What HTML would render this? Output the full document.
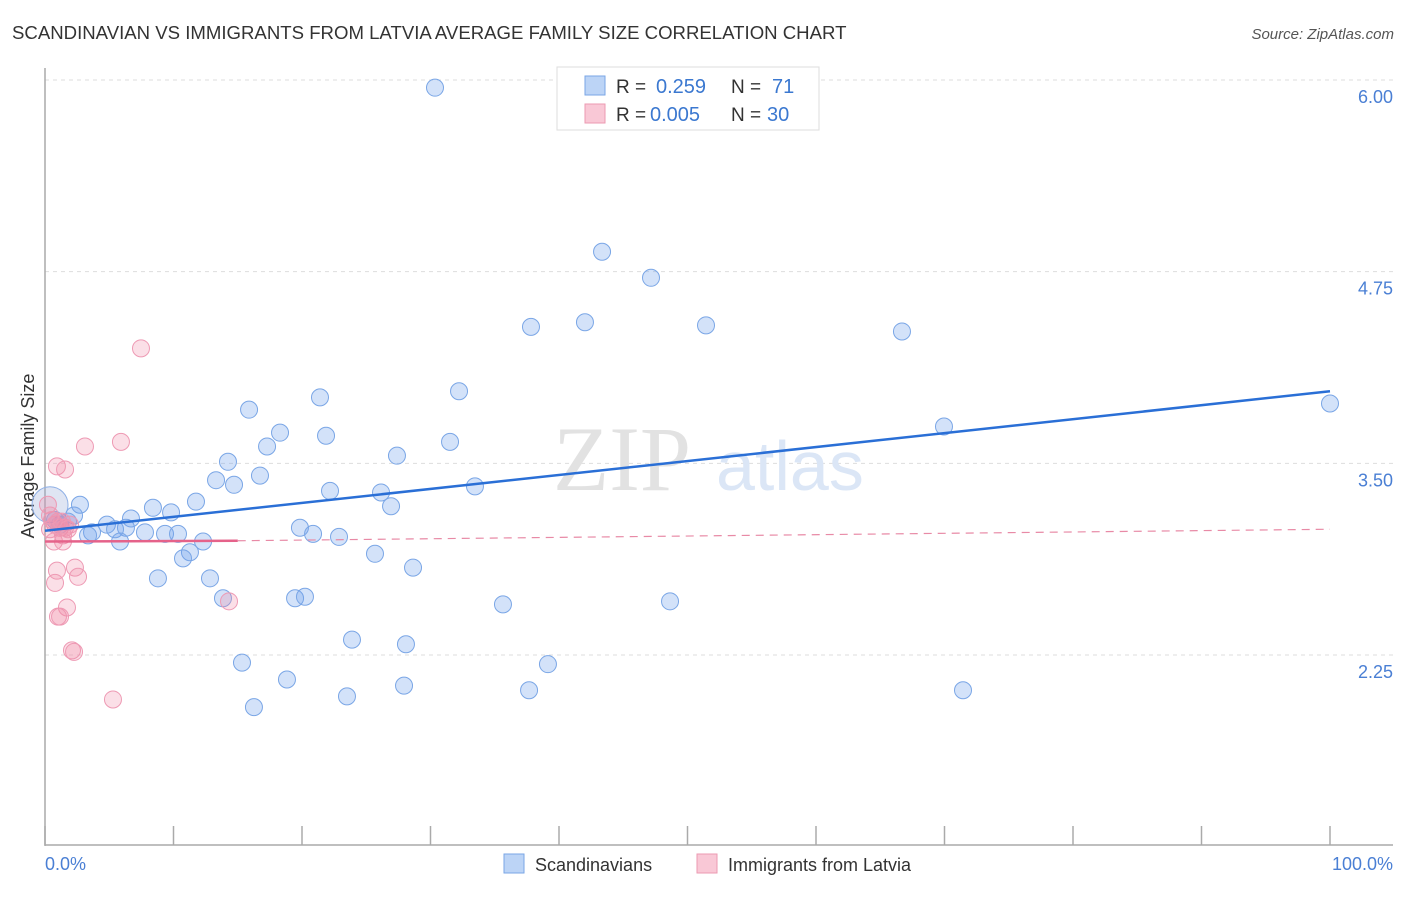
<!DOCTYPE html>
<html><head><meta charset="utf-8"><style>
body{margin:0;background:#fff;font-family:"Liberation Sans",sans-serif;}
svg text{font-family:"Liberation Sans",sans-serif;}
</style></head><body>
<svg width="1406" height="892" xmlns="http://www.w3.org/2000/svg">
<text x="12" y="39" font-size="18.6" fill="#333">SCANDINAVIAN VS IMMIGRANTS FROM LATVIA AVERAGE FAMILY SIZE CORRELATION CHART</text>
<text x="1394" y="39" font-size="15" fill="#555" font-style="italic" text-anchor="end">Source: ZipAtlas.com</text>
<g id="grid"></g>
<line x1="45" y1="68" x2="45" y2="846" stroke="#aaa" stroke-width="1.5"/>
<line x1="45" y1="845" x2="1393" y2="845" stroke="#aaa" stroke-width="1.5"/>
<g id="xticks"></g>
<text x="553" y="490" font-size="92" fill="#e2e2e2" style="font-family:'Liberation Serif',serif">ZIP</text>
<text x="716" y="490" font-size="70" fill="#dbe6f6">atlas</text>
<text transform="translate(34,456) rotate(-90)" font-size="18" fill="#333" text-anchor="middle">Average Family Size</text>
<g id="pts"></g>
<g id="trends"></g>
<text x="45" y="870" font-size="18" fill="#4a7fd4">0.0%</text>
<text x="1393" y="870" font-size="18" fill="#4a7fd4" text-anchor="end">100.0%</text>
<g>
<rect x="557" y="67" width="262" height="63" fill="#fff" stroke="#ddd"/>
<rect x="585" y="76" width="20" height="19" fill="#bcd4f6" stroke="#7aa6e6"/>
<rect x="585" y="104" width="20" height="19" fill="#f9c8d6" stroke="#ec9ab2"/>
<text x="616" y="93" font-size="19" fill="#333">R =</text>
<text x="656" y="93" font-size="20" fill="#3b78d0">0.259</text>
<text x="731" y="93" font-size="19" fill="#333">N =</text>
<text x="772" y="93" font-size="20" fill="#3b78d0">71</text>
<text x="616" y="121" font-size="19" fill="#333">R =</text>
<text x="650" y="121" font-size="20" fill="#3b78d0">0.005</text>
<text x="731" y="121" font-size="19" fill="#333">N =</text>
<text x="767" y="121" font-size="20" fill="#3b78d0">30</text>
</g>
<g>
<rect x="504" y="854" width="20" height="19" fill="#bcd4f6" stroke="#7aa6e6"/>
<text x="535" y="871" font-size="18" fill="#333">Scandinavians</text>
<rect x="697" y="854" width="20" height="19" fill="#f9c8d6" stroke="#ec9ab2"/>
<text x="728" y="871" font-size="18" fill="#333">Immigrants from Latvia</text>
</g>
</svg>
<script>
const yTicks=[2.25,3.5,4.75,6.0];
const yTickLabels=["2.25","3.50","4.75","6.00"];
const blueX=[30.35,43.35,47.16,37.82,42.02,51.44,66.69,100,69.96,32.22,21.40,15.88,18.29,21.87,17.28,31.52,27.39,14.24,13.31,16.73,14.71,11.75,33.46,22.18,26.15,26.93,8.40,9.81,2.72,2.26,6.69,4.82,6.30,1.79,3.66,5.45,3.35,7.78,9.34,10.35,5.84,19.84,20.86,22.88,12.30,11.28,10.74,25.68,28.64,8.79,12.84,13.85,19.46,20.23,35.64,48.64,23.89,28.09,15.33,39.14,18.83,27.94,37.67,23.50,71.44,16.26,1.17,0.78];
const blueY=[5.95,4.88,4.71,4.39,4.42,4.40,4.36,3.89,3.74,3.97,3.93,3.85,3.70,3.68,3.61,3.64,3.55,3.51,3.39,3.42,3.36,3.25,3.35,3.32,3.31,3.22,3.21,3.18,3.23,3.16,3.14,3.10,3.08,3.12,3.05,3.07,3.03,3.05,3.04,3.04,2.99,3.08,3.04,3.02,2.99,2.92,2.88,2.91,2.82,2.75,2.75,2.62,2.62,2.63,2.58,2.60,2.35,2.32,2.20,2.19,2.09,2.05,2.02,1.98,2.02,1.91,3.10,3.13];
const pinkX=[7.47,5.91,3.11,0.93,1.56,0.23,0.54,0.78,1.17,1.01,0.39,1.56,1.95,1.40,0.70,0.93,2.33,0.78,2.57,1.71,1.01,1.17,2.10,2.26,14.32,5.29,1.40,1.32,1.79,0.39];
const pinkY=[4.25,3.64,3.61,3.48,3.46,3.23,3.13,3.10,3.08,3.12,3.07,3.08,3.10,3.03,2.99,2.80,2.82,2.72,2.76,2.56,2.50,2.50,2.28,2.27,2.60,1.96,2.99,3.12,3.07,3.16];
const blueTrend=[[0,3.06],[100,3.97]];
const pinkTrend=[[0,2.99],[15,2.995],[100,3.07]];
const NS="http://www.w3.org/2000/svg";
const X=v=>45+v*12.85, Y=v=>80+(6-v)*153.33;
function mk(t,a,p){const e=document.createElementNS(NS,t);for(const k in a)e.setAttribute(k,a[k]);document.getElementById(p).appendChild(e);return e;}
yTicks.forEach((t,i)=>{
 const l=mk('line',{x1:45,x2:1393,y1:Y(t),y2:Y(t),stroke:'#ddd','stroke-dasharray':'4,4'},'grid');
 
 
 const tx=mk('text',{x:1393,y:Y(t)+23,'font-size':18,fill:'#4a7fd4','text-anchor':'end'},'grid');
 tx.textContent=yTickLabels[i];
 
 
});
for(let i=0;i<=10;i++){
 const l=mk('line',{x1:X(i*10),x2:X(i*10),y1:826,y2:845,stroke:'#aaa','stroke-width':1.5},'xticks');
 
 
}
const big=mk('circle',{cx:X(0.39),cy:Y(3.23),r:18,fill:'rgba(150,170,215,0.3)',stroke:'#8fb0e6'},'pts');


blueX.forEach((x,i)=>{
 const c=mk('circle',{cx:X(x),cy:Y(blueY[i]),r:8.5,fill:'rgba(110,160,235,0.3)',stroke:'#7aa6e6','stroke-width':1},'pts');
 
 
});
pinkX.forEach((x,i)=>{
 const c=mk('circle',{cx:X(x),cy:Y(pinkY[i]),r:8.5,fill:'rgba(240,140,170,0.28)',stroke:'#ee9ab4','stroke-width':1},'pts');
 
 
});
const bt=mk('line',{x1:X(blueTrend[0][0]),y1:Y(blueTrend[0][1]),x2:X(blueTrend[1][0]),y2:Y(blueTrend[1][1]),stroke:'#2a6fd6','stroke-width':2.5},'trends');


const pt=mk('line',{x1:X(pinkTrend[0][0]),y1:Y(pinkTrend[0][1]),x2:X(pinkTrend[1][0]),y2:Y(pinkTrend[1][1]),stroke:'#e5628a','stroke-width':2.5},'trends');


const pd=mk('line',{x1:X(pinkTrend[1][0]),y1:Y(pinkTrend[1][1]),x2:X(pinkTrend[2][0]),y2:Y(pinkTrend[2][1]),stroke:'#e88aa6','stroke-width':1.2,'stroke-dasharray':'8,6'},'trends');


</script>
</body></html>
